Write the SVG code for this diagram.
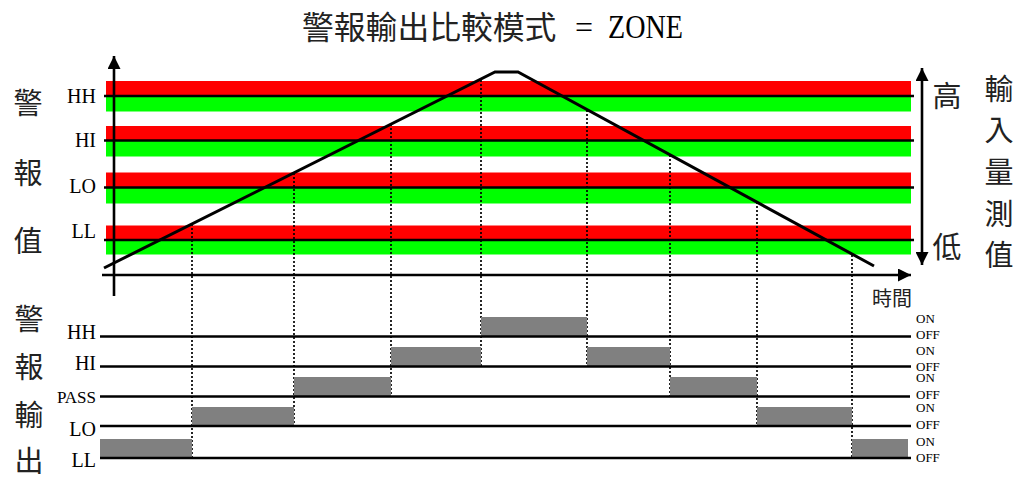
<svg xmlns="http://www.w3.org/2000/svg" width="1021" height="478" viewBox="0 0 1021 478">
<defs>
<style>
.red{fill:#ff0000}
.grn{fill:#00ff00}
.thr{stroke:#000;stroke-width:2.6;fill:none}
.out{stroke:#000;stroke-width:2.6;fill:none}
.blk{fill:#808080}
.dot{stroke:#000;stroke-width:1.7;stroke-dasharray:2 2;fill:none}
.lat{font-family:"Liberation Serif","Times New Roman",serif;fill:#000}
.cjk{font-family:"Noto Sans CJK TC","Noto Sans CJK SC",sans-serif;fill:#222;text-anchor:middle;font-size:29px}
.lab{font-size:20px;text-anchor:end}
.oo{font-size:13px}
</style>
<marker id="ah" viewBox="0 0 10 10" refX="10" refY="5" markerWidth="5.4" markerHeight="5" markerUnits="strokeWidth" orient="auto-start-reverse">
<path d="M0,0 L10,5 L0,10 Z" fill="#000"/>
</marker>
</defs>
<rect width="1021" height="478" fill="#fff"/>

<g id="title">
<text class="cjk" x="302" y="39" style="font-size:31.8px;text-anchor:start">警報輸出比較模式</text>
<text x="575" y="38" style="font-family:'Liberation Serif',serif;font-size:32px">=</text>
<text x="608" y="38" style="font-family:'Liberation Serif',serif;font-size:34px" textLength="75" lengthAdjust="spacingAndGlyphs">ZONE</text>
</g>

<g id="bands">
<rect class="red" x="106" y="81" width="805" height="15"/>
<rect class="grn" x="106" y="96" width="805" height="15.5"/>
<rect class="red" x="106" y="126" width="805" height="14.5"/>
<rect class="grn" x="106" y="140.5" width="805" height="16"/>
<rect class="red" x="106" y="172.5" width="805" height="15"/>
<rect class="grn" x="106" y="187.5" width="805" height="16"/>
<rect class="red" x="106" y="225.5" width="805" height="14.5"/>
<rect class="grn" x="106" y="240" width="805" height="14.5"/>
<line class="thr" x1="104" y1="96" x2="914" y2="96"/>
<line class="thr" x1="104" y1="140.5" x2="914" y2="140.5"/>
<line class="thr" x1="104" y1="187.5" x2="914" y2="187.5"/>
<line class="thr" x1="104" y1="240" x2="914" y2="240"/>
</g>

<g id="alarm-labels">
<text class="lat lab" x="96" y="103">HH</text>
<text class="lat lab" x="96" y="147">HI</text>
<text class="lat lab" x="96" y="193">LO</text>
<text class="lat lab" x="96" y="238">LL</text>
<text class="cjk" x="28" y="114">警</text>
<text class="cjk" x="28" y="184">報</text>
<text class="cjk" x="28" y="252">值</text>
</g>

<g id="axes">
<line x1="114" y1="296" x2="114" y2="56" stroke="#000" stroke-width="2.6" marker-end="url(#ah)"/>
<line x1="102" y1="275" x2="911" y2="275" stroke="#000" stroke-width="2.6" marker-end="url(#ah)"/>
<line x1="922" y1="68" x2="922" y2="265" stroke="#000" stroke-width="2.6" marker-start="url(#ah)" marker-end="url(#ah)"/>
<text class="cjk" x="892" y="306" style="font-size:20px">時間</text>
</g>

<g id="input-labels">
<text class="cjk" x="947" y="107">高</text>
<text class="cjk" x="947" y="258">低</text>
<text class="cjk" x="999" y="100">輸</text>
<text class="cjk" x="999" y="141">入</text>
<text class="cjk" x="999" y="183">量</text>
<text class="cjk" x="999" y="225">測</text>
<text class="cjk" x="999" y="266">值</text>
</g>

<g id="connectors">
<line class="dot" x1="192" y1="224" x2="192" y2="458"/>
<line class="dot" x1="294" y1="173" x2="294" y2="426"/>
<line class="dot" x1="391" y1="124" x2="391" y2="396.5"/>
<line class="dot" x1="481" y1="80" x2="481" y2="366.5"/>
<line class="dot" x1="587" y1="110" x2="587" y2="366.5"/>
<line class="dot" x1="670" y1="155" x2="670" y2="396.5"/>
<line class="dot" x1="757" y1="202" x2="757" y2="426"/>
<line class="dot" x1="852" y1="255" x2="852" y2="458"/>
</g>

<g id="input-curve">
<polyline points="104,268 495,72 518,72 874,266" fill="none" stroke="#000" stroke-width="3"/>
</g>

<g id="outputs">
<rect class="blk" x="100" y="439" width="92" height="19"/>
<rect class="blk" x="192" y="407" width="102" height="19"/>
<rect class="blk" x="294" y="377" width="97" height="19.5"/>
<rect class="blk" x="391" y="347" width="90" height="19.5"/>
<rect class="blk" x="481" y="317" width="106" height="19.5"/>
<rect class="blk" x="587" y="347" width="83" height="19.5"/>
<rect class="blk" x="670" y="377" width="87" height="19.5"/>
<rect class="blk" x="757" y="407" width="95" height="19"/>
<rect class="blk" x="852" y="439" width="56" height="19"/>
<line class="out" x1="100" y1="336.5" x2="911" y2="336.5"/>
<line class="out" x1="100" y1="366.5" x2="911" y2="366.5"/>
<line class="out" x1="100" y1="396.5" x2="910" y2="396.5"/>
<line class="out" x1="100" y1="426" x2="911" y2="426"/>
<line class="out" x1="100" y1="458" x2="911" y2="458"/>
</g>

<g id="output-labels">
<text class="lat lab" x="96" y="339">HH</text>
<text class="lat lab" x="96" y="370">HI</text>
<text class="lat lab" x="96" y="403" style="font-size:17px">PASS</text>
<text class="lat lab" x="96" y="436">LO</text>
<text class="lat lab" x="96" y="467">LL</text>
<text class="cjk" x="29" y="330">警</text>
<text class="cjk" x="29" y="378">報</text>
<text class="cjk" x="29" y="426">輸</text>
<text class="cjk" x="29" y="472">出</text>
<text class="lat oo" x="916" y="323">ON</text>
<text class="lat oo" x="916" y="339">OFF</text>
<text class="lat oo" x="916" y="355">ON</text>
<text class="lat oo" x="916" y="371">OFF</text>
<text class="lat oo" x="916" y="382">ON</text>
<text class="lat oo" x="916" y="399">OFF</text>
<text class="lat oo" x="916" y="412">ON</text>
<text class="lat oo" x="916" y="429">OFF</text>
<text class="lat oo" x="916" y="446">ON</text>
<text class="lat oo" x="916" y="462">OFF</text>
</g>
</svg>
